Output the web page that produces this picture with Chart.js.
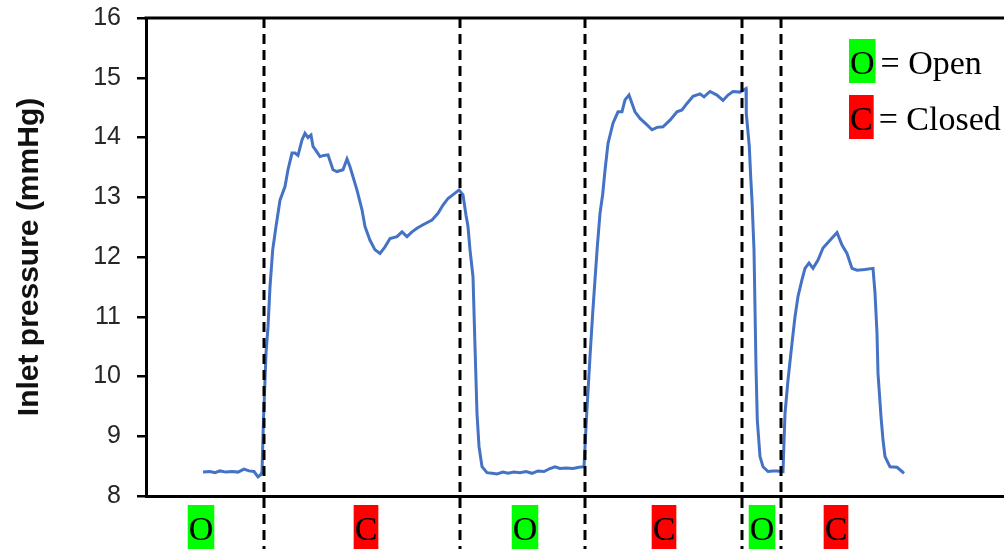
<!DOCTYPE html>
<html>
<head>
<meta charset="utf-8">
<script src="https://cdn.jsdelivr.net/npm/chart.js@4.4.1/dist/chart.umd.min.js"></script>
<style>
  html, body { margin: 0; padding: 0; background: #fff; }
  #wrap { width: 1004px; height: 549px; }
</style>
</head>
<body>
<div id="wrap"><canvas id="c" width="1004" height="549"></canvas></div>
<script>
// ---- data (time in arbitrary units, pressure in mmHg) ----
const time = [57,64,69,74,80,86,92,98,103,108,112,115,116,117.5,118,120,122,124,126.7,130,134,139,142,146,149,152,156,159,162,165,167,170,174,178,182,187,191,197,201,204,211,216,219,224,229,234,239,244,251,256,261,266,271,277,286,292,297,302,309,313,317,320,322,324,327,329,331,333,336,341,346,351,357,362,368,374,380,386,392,398,404,409,414,420,427,433,438,440.7,442.3,444,446.7,449,451.3,454,456.7,459,462,467,472,476,479,483,486,489,494,501,506,511,517,524,531,536,541,547,554,558,564,571,577,582,587,594,600,600.3,603.3,604.7,606,608,610,611.3,614,617,622,627,631,637,639,642,646,649,652,656,659,663,667,672,677,684,691,696,701,706,711,719,727,729,731,732,735,737,739,744,751,756,758];
const pressure = [8.40,8.41,8.39,8.42,8.40,8.41,8.40,8.45,8.42,8.41,8.32,8.36,8.40,9.30,9.49,10.39,10.83,11.50,12.12,12.51,12.95,13.18,13.46,13.74,13.74,13.70,13.96,14.07,14.00,14.04,13.85,13.78,13.68,13.70,13.71,13.46,13.43,13.46,13.64,13.51,13.12,12.79,12.51,12.28,12.12,12.06,12.17,12.31,12.34,12.42,12.34,12.42,12.48,12.54,12.62,12.73,12.87,12.98,13.07,13.12,13.04,12.70,12.51,12.12,11.67,10.50,9.38,8.83,8.49,8.39,8.38,8.37,8.40,8.38,8.40,8.39,8.41,8.38,8.42,8.41,8.46,8.49,8.46,8.47,8.46,8.48,8.49,9.38,9.83,10.33,11.06,11.62,12.17,12.73,13.05,13.45,13.90,14.24,14.43,14.43,14.63,14.71,14.57,14.43,14.32,14.21,14.13,14.17,14.18,14.29,14.43,14.46,14.57,14.69,14.73,14.68,14.77,14.71,14.62,14.71,14.77,14.76,14.82,14.40,13.85,13.34,12.95,12.12,10.16,9.27,8.66,8.49,8.41,8.42,8.42,8.41,9.38,9.94,10.56,11.00,11.34,11.62,11.81,11.90,11.81,11.95,12.15,12.28,12.41,12.20,12.06,11.81,11.78,11.79,11.81,11.40,10.72,10.05,9.33,8.94,8.66,8.49,8.48,8.41,8.38];
const phaseBoundaries = [118, 314, 439, 596, 635];
const phaseLabels = ['O', 'C', 'O', 'C', 'O', 'C'];
const phaseCenters = [55, 220, 379, 518, 616, 690];
const yMin = 8, yMax = 16, yStep = 1;
const xMin = 0, xMax = 858;
const legendKeys = ['O', 'C'];
const legendTexts = ['= Open', '= Closed'];
const phaseColors = { O: '#00FF00', C: '#FF0000' };
const yTitle = 'Inlet pressure (mmHg)';

const SERIF = '"Liberation Serif", "DejaVu Serif", serif';

const overlay = {
  id: 'overlay',
  afterDatasetsDraw(chart) {
    const ctx = chart.ctx;
    const ca = chart.chartArea;
    const xs = chart.scales.x;
    ctx.save();
    // top border
    ctx.strokeStyle = '#000';
    ctx.lineWidth = 3;
    ctx.beginPath();
    ctx.moveTo(ca.left - 1.5, ca.top);
    ctx.lineTo(chart.width, ca.top);
    ctx.stroke();
    // dashed phase boundaries
    ctx.lineWidth = 3;
    ctx.setLineDash([10, 6]);
    phaseBoundaries.forEach(t => {
      const px = Math.round(xs.getPixelForValue(t));
      ctx.beginPath();
      ctx.moveTo(px, ca.top);
      ctx.lineTo(px, chart.height);
      ctx.stroke();
    });
    ctx.setLineDash([]);
    // phase labels under the axis
    ctx.font = '34px ' + SERIF;
    ctx.textAlign = 'center';
    ctx.textBaseline = 'alphabetic';
    phaseLabels.forEach((lab, i) => {
      const cx = xs.getPixelForValue(phaseCenters[i]);
      const w = ctx.measureText(lab).width + 2;
      ctx.fillStyle = phaseColors[lab];
      ctx.fillRect(cx - w / 2, ca.bottom + 9, w, 44);
      ctx.fillStyle = '#000';
      ctx.fillText(lab, cx, ca.bottom + 44);
    });
    // legend
    const lx = 849;
    legendKeys.forEach((k, i) => {
      const top = ca.top + 21 + i * 56;
      ctx.textAlign = 'left';
      const w = ctx.measureText(k).width + 2;
      ctx.fillStyle = phaseColors[k];
      ctx.fillRect(lx, top, w, 44);
      ctx.fillStyle = '#000';
      ctx.fillText(k, lx + 1, top + 35);
      ctx.fillText(legendTexts[i], lx + w + 5, top + 35);
    });
    ctx.restore();
  }
};

new Chart(document.getElementById('c'), {
  type: 'line',
  data: {
    datasets: [{
      data: time.map((t, i) => ({ x: t, y: pressure[i] })),
      borderColor: '#4472C4',
      borderWidth: 3,
      pointRadius: 0,
      tension: 0,
      fill: false
    }]
  },
  options: {
    responsive: false,
    animation: false,
    devicePixelRatio: 1,
    layout: { padding: { top: 18, right: 0, left: 0, bottom: 0 } },
    plugins: { legend: { display: false }, tooltip: { enabled: false } },
    scales: {
      x: {
        type: 'linear', min: xMin, max: xMax,
        ticks: { display: false },
        grid: { display: false },
        border: { display: true, color: '#000', width: 3 },
        afterFit(s) { s.height = 53; s.paddingLeft = 0; s.paddingRight = 0; }
      },
      y: {
        min: yMin, max: yMax,
        ticks: {
          stepSize: yStep, color: '#262626', padding: 16,
          font: { family: '"Liberation Sans", Arial, sans-serif', size: 25 }
        },
        grid: { drawOnChartArea: false, drawTicks: true, tickLength: 9, color: '#000', lineWidth: 2.5 },
        border: { display: true, color: '#000', width: 3 },
        title: {
          display: true, text: yTitle, color: '#111',
          font: { family: '"Liberation Sans", Arial, sans-serif', size: 30, weight: 'bold' },
          padding: { top: 12, bottom: 0 }
        },
        afterFit(s) { s.width = 146; s.paddingTop = 0; s.paddingBottom = 0; }
      }
    }
  },
  plugins: [overlay]
});
</script>
</body>
</html>
